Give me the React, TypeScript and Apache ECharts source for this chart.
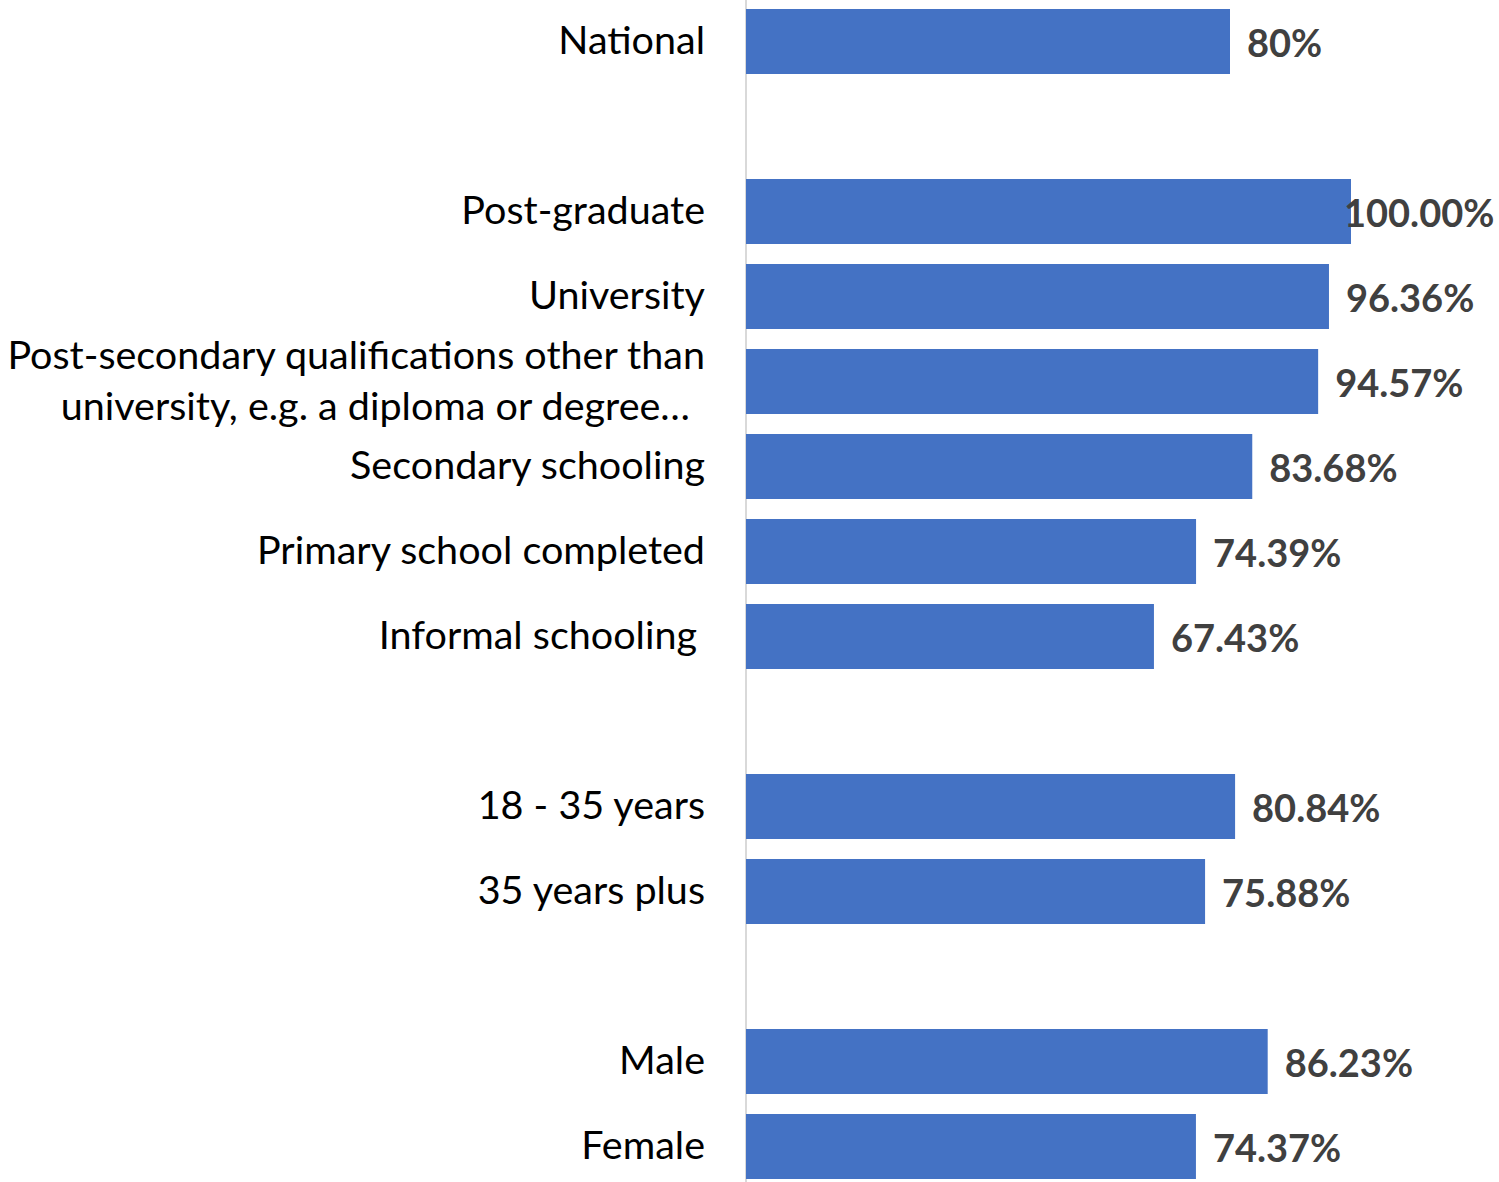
import React, { useEffect, useRef } from "react";
import * as echarts from "echarts";

const categories = [
  "National",
  " ",
  "Post-graduate",
  "University",
  "Post-secondary qualifications other than\nuniversity, e.g. a diploma or degree…",
  "Secondary schooling",
  "Primary school completed",
  "Informal schooling",
  "  ",
  "18 - 35 years",
  "35 years plus",
  "   ",
  "Male",
  "Female",
];

const values: (number | null)[] = [80, null, 100, 96.36, 94.57, 83.68, 74.39, 67.43, null, 80.84, 75.88, null, 86.23, 74.37];

const valueLabels = ["80%", "", "100.00%", "96.36%", "94.57%", "83.68%", "74.39%", "67.43%", "", "80.84%", "75.88%", "", "86.23%", "74.37%"];

const FONT = "Lato";
const FS = 39.5;
const LFS = 38;

export default function App() {
  const ref = useRef<HTMLDivElement>(null);
  useEffect(() => {
    const chart = echarts.init(ref.current!, null, { renderer: "svg" });
    const data = values.map((v, i) => {
      const item: any = { value: v };
      if (v === 100) item.label = { offset: [-24, 0] };
      return item;
    });
    chart.setOption({
      animation: false,
      grid: { left: 746, top: 1, width: 605, height: 1190 },
      xAxis: { type: "value", min: 0, max: 100, show: false },
      yAxis: {
        type: "category",
        inverse: true,
        data: categories,
        axisLine: { show: true, lineStyle: { color: "#d9d9d9", width: 2 } },
        axisTick: { show: false },
        splitLine: { show: false },
        axisLabel: {
          margin: 41,
          color: "#000",
          fontFamily: FONT,
          fontSize: FS,
          lineHeight: 51,
          padding: [0, 0, 6, 0],
          formatter: (v: string) => {
            if (v.includes("\n")) {
              const parts = v.split("\n");
              return `{a|${parts[0]}}\n{b|${parts[1]}}`;
            }
            if (v === "Informal schooling") return `{c|${v}}`;
            return v;
          },
          rich: {
            a: { fontFamily: FONT, fontSize: FS, color: "#000", lineHeight: 51 },
            b: { fontFamily: FONT, fontSize: FS, color: "#000", lineHeight: 51, padding: [0, 15, 0, 0] },
            c: { fontFamily: FONT, fontSize: FS, color: "#000", lineHeight: 51, padding: [0, 8, 0, 0] },
          },
        },
      },
      series: [
        {
          type: "bar",
          data,
          barWidth: 65,
          itemStyle: { color: "#4472C4" },
          label: {
            show: true,
            position: "right",
            distance: 17,
            color: "#404040",
            fontFamily: FONT,
            fontSize: LFS,
            fontWeight: "bold",
            formatter: (p: any) => valueLabels[p.dataIndex],
          },
        },
      ],
    });
    return () => chart.dispose();
  }, []);
  return <div ref={ref} style={{ position: "absolute", left: 0, top: -2, width: 1499, height: 1200 }} />;
}
